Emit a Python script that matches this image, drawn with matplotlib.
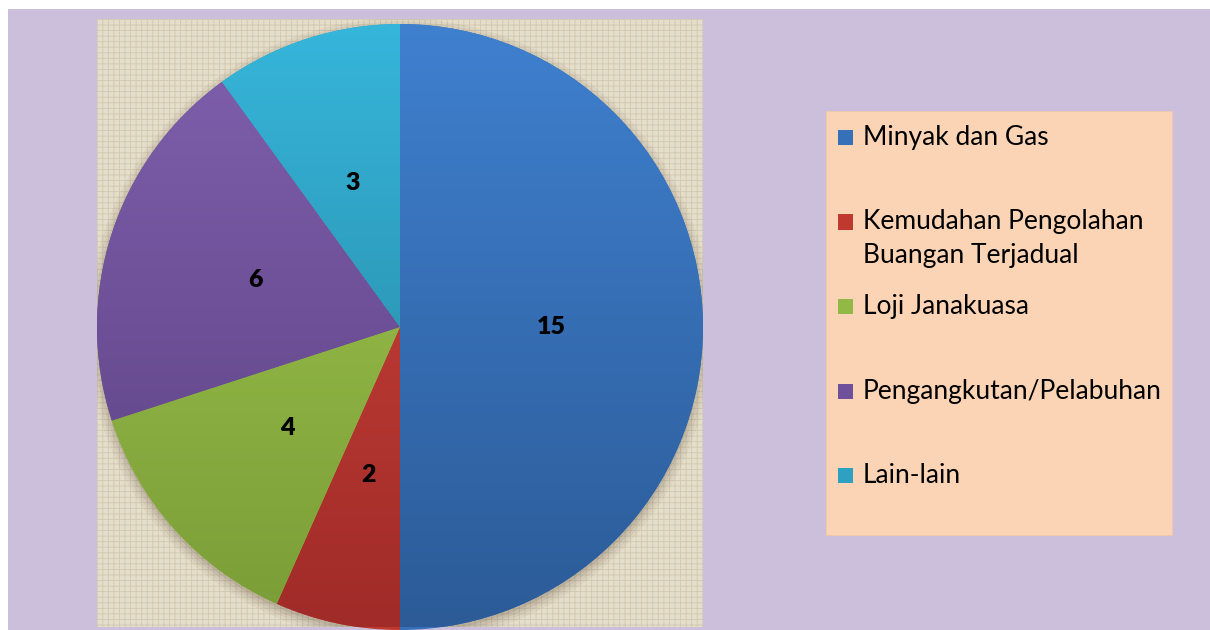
import numpy as np
import matplotlib
matplotlib.use("Agg")
import matplotlib.pyplot as plt
from matplotlib.patches import Rectangle, Circle
from matplotlib.colors import to_rgb

# data
categories = ["Minyak dan Gas", "Kemudahan Pengolahan\nBuangan Terjadual",
              "Loji Janakuasa", "Pengangkutan/Pelabuhan", "Lain-lain"]
values = [15, 2, 4, 6, 3]
top_colors = ["#3F80CF", "#D2463D", "#A3CB50", "#8060AE", "#36B6DB"]
bottom_colors = ["#2C5B97", "#A02B28", "#7A9C37", "#5A4080", "#257E98"]
mid_colors = ["#3670B8", "#C0392F", "#92B846", "#6E519A", "#2EA0C2"]

plt.rcParams["font.family"] = ["Lato", "DejaVu Sans"]
plt.rcParams["hatch.linewidth"] = 0.6

fig = plt.figure(figsize=(12.1, 6.3), dpi=100, facecolor="white")
W, H = 1210, 630

# lavender background
fig.patches.append(Rectangle((8 / W, 0), 1, (H - 9) / H, transform=fig.transFigure,
                             facecolor="#CBBFDB", edgecolor="none", zorder=-10))

# plot area (linen look)
ax = fig.add_axes([97 / W, 3 / H, 606 / W, 608 / H])
ax.set_facecolor("#E5DECB")
for s in ax.spines.values():
    s.set_visible(False)
ax.add_patch(Rectangle((0, 0), 1, 1, transform=ax.transAxes, facecolor="none",
                       edgecolor="#D2C8B0", hatch="+++", linewidth=0, zorder=0))

cy = -2 / 303

# soft shadow
for r, a in [(1.03, 0.05), (1.02, 0.06), (1.01, 0.08), (1.0, 0.10)]:
    ax.add_patch(Circle((0, cy - 0.012), r, facecolor="#4a3b25", edgecolor="none",
                        alpha=a, zorder=0.5))

total = sum(values)
wedges, texts, autotexts = ax.pie(
    values, colors=mid_colors, startangle=90, counterclock=False, radius=1,
    center=(0, cy), autopct=lambda p: f"{round(p * total / 100)}", pctdistance=0.5,
    wedgeprops=dict(linewidth=0), frame=True)

g = np.linspace(0, 1, 256)[:, None, None]
for w, c1, c2 in zip(wedges, top_colors, bottom_colors):
    c1 = np.array(to_rgb(c1))
    c2 = np.array(to_rgb(c2))
    img = (1 - g) * c1 + g * c2
    im = ax.imshow(img, extent=(-1, 1, cy - 1, cy + 1), origin="upper", aspect="auto",
                   zorder=1.5, interpolation="bilinear")
    im.set_clip_path(w)

for t in autotexts:
    t.set_fontsize(18)
    t.set_fontweight("heavy")
    t.set_color("black")
    t.set_zorder(5)

ax.set_xlim(-1, 1)
ax.set_ylim(-0.9967, 1.0099)
ax.set_aspect("auto")
ax.set_xticks([])
ax.set_yticks([])

# legend box
fig.patches.append(Rectangle((826 / W, (H - 535) / H), 346 / W, 424 / H,
                             transform=fig.transFigure, facecolor="#FBD4B5",
                             edgecolor="#F0C8A8", linewidth=0.6, zorder=1))
for i, (name, col) in enumerate(zip(categories, mid_colors)):
    base = 145 + 84.5 * i
    fig.patches.append(Rectangle((838 / W, (H - base) / H), 15 / W, 15 / H,
                                 transform=fig.transFigure, facecolor=col,
                                 edgecolor="none", zorder=2))
    for j, line in enumerate(name.split("\n")):
        fig.text(863 / W, (H - base - 34 * j) / H, line, fontsize=19, va="baseline",
                 ha="left", color="black", zorder=3)

fig.savefig("out.png", dpi=100, facecolor="white")
